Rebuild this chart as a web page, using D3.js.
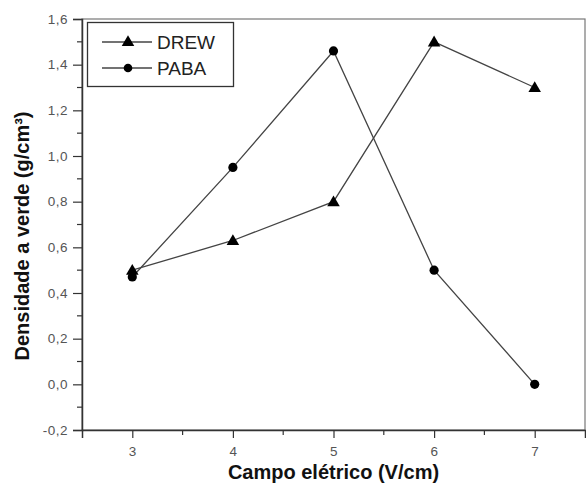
<!DOCTYPE html>
<html>
<head>
<meta charset="utf-8">
<title>Densidade a verde</title>
<script src="https://cdn.jsdelivr.net/npm/d3@7"></script>
<style>
  body { margin: 0; background: #fff; }
  svg { font-family: "Liberation Sans", Arial, sans-serif; }
</style>
</head>
<body>
<div id="chart"></div>
<script>
// data
var campo = [3, 4, 5, 6, 7];
var drew = [0.50, 0.63, 0.80, 1.50, 1.30];
var paba = [0.47, 0.95, 1.46, 0.50, 0.00];
var yTicks = [-0.2, 0, 0.2, 0.4, 0.6, 0.8, 1.0, 1.2, 1.4, 1.6];
var xTicks = [3, 4, 5, 6, 7];

var W = 586, H = 490;
var m = {left: 82, right: 1, top: 19, bottom: 60};

var svg = d3.select("#chart").append("svg")
    .attr("width", W).attr("height", H);

var x = d3.scaleLinear().domain([2.5, 7.5]).range([m.left, W - m.right]);
var y = d3.scaleLinear().domain([-0.2, 1.6]).range([H - m.bottom, m.top]);

var fmt = function(d){ return d3.format(".1f")(d).replace(".", ",").replace("−", "-"); };

// frame (top/right lighter)
svg.append("rect")
    .attr("x", x(2.5)).attr("y", y(1.6))
    .attr("width", x(7.5) - x(2.5)).attr("height", y(-0.2) - y(1.6))
    .attr("fill", "none").attr("stroke", "#777").attr("stroke-width", 1.2);

// minor ticks
var yMinor = d3.range(-0.1, 1.6, 0.2);
svg.selectAll(".ym").data(yMinor).enter().append("line")
    .attr("x1", m.left - 5).attr("x2", m.left)
    .attr("y1", function(d){ return y(d); }).attr("y2", function(d){ return y(d); })
    .attr("stroke", "#333").attr("stroke-width", 1.2);
var xMinor = [3.5, 4.5, 5.5, 6.5];
svg.selectAll(".xm").data(xMinor).enter().append("line")
    .attr("y1", y(-0.2)).attr("y2", y(-0.2) + 5)
    .attr("x1", function(d){ return x(d); }).attr("x2", function(d){ return x(d); })
    .attr("stroke", "#333").attr("stroke-width", 1.2);

var yAxis = svg.append("g")
    .attr("transform", "translate(" + m.left + ",0)")
    .call(d3.axisLeft(y).tickValues(yTicks).tickFormat(fmt).tickSize(9).tickPadding(5));
var xAxis = svg.append("g")
    .attr("transform", "translate(0," + y(-0.2) + ")")
    .call(d3.axisBottom(x).tickValues(xTicks).tickFormat(d3.format("d")).tickSize(8).tickPadding(8));

[yAxis, xAxis].forEach(function(g){
  g.select(".domain").attr("stroke", "#333").attr("stroke-width", 1.5);
  g.selectAll(".tick line").attr("stroke", "#333").attr("stroke-width", 1.2);
  g.selectAll(".tick text").attr("fill", "#555")
      .style("font-size", "13.5px").style("letter-spacing", "0.5px");
});

// series
var line = d3.line()
    .x(function(d){ return x(d[0]); })
    .y(function(d){ return y(d[1]); });

var drewPts = campo.map(function(c, i){ return [c, drew[i]]; });
var pabaPts = campo.map(function(c, i){ return [c, paba[i]]; });

[pabaPts, drewPts].forEach(function(p){
  svg.append("path").datum(p).attr("d", line)
      .attr("fill", "none").attr("stroke", "#444").attr("stroke-width", 1.3);
});

var tri = d3.symbol().type(d3.symbolTriangle).size(68);

svg.selectAll(".pc").data(pabaPts).enter().append("circle")
    .attr("cx", function(d){ return x(d[0]); })
    .attr("cy", function(d){ return y(d[1]); })
    .attr("r", 4.6).attr("fill", "#000");
svg.selectAll(".dt").data(drewPts).enter().append("path")
    .attr("d", tri)
    .attr("transform", function(d){ return "translate(" + x(d[0]) + "," + (y(d[1]) + 1) + ")"; })
    .attr("fill", "#000");

// legend
var lg = svg.append("g");
lg.append("rect").attr("x", 87.5).attr("y", 22.5).attr("width", 146).attr("height", 64)
    .attr("fill", "#fff").attr("stroke", "#333").attr("stroke-width", 1.3);
var items = [["DREW", 42, "tri"], ["PABA", 68, "circ"]];
items.forEach(function(it){
  lg.append("line").attr("x1", 102).attr("x2", 152).attr("y1", it[1]).attr("y2", it[1])
      .attr("stroke", "#444").attr("stroke-width", 1.3);
  if (it[2] === "tri") {
    lg.append("path").attr("d", tri).attr("transform", "translate(128," + (it[1] + 0.5) + ")").attr("fill", "#000");
  } else {
    lg.append("circle").attr("cx", 128).attr("cy", it[1]).attr("r", 4.3).attr("fill", "#000");
  }
  lg.append("text").attr("x", 157).attr("y", it[1] + 7).text(it[0])
      .attr("fill", "#222").style("font-size", "19px");
});

// axis titles
svg.append("text")
    .attr("x", (m.left + W - m.right) / 2).attr("y", 479)
    .attr("text-anchor", "middle").attr("fill", "#111")
    .style("font-size", "20px").style("font-weight", "bold")
    .text("Campo elétrico (V/cm)");
svg.append("text")
    .attr("transform", "translate(29,236) rotate(-90)")
    .attr("text-anchor", "middle").attr("fill", "#111")
    .style("font-size", "20px").style("font-weight", "bold")
    .text("Densidade a verde (g/cm³)");
</script>
</body>
</html>
